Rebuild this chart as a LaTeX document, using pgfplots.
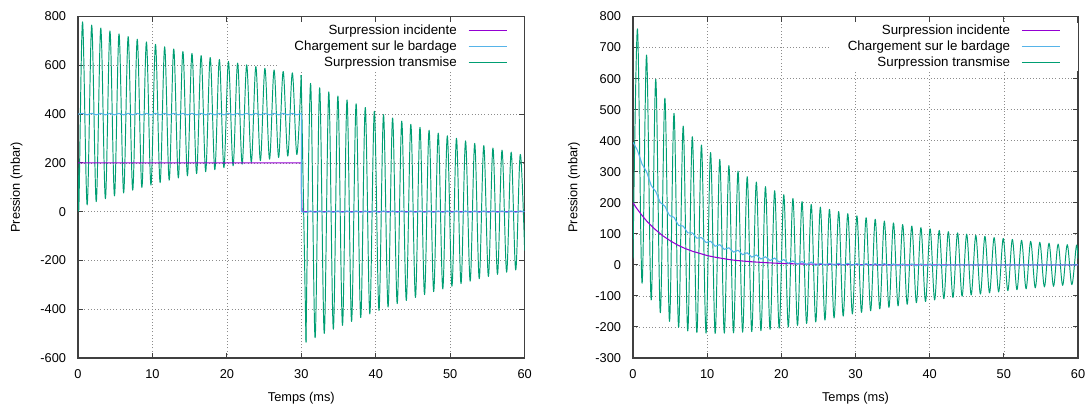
\documentclass[border=0pt]{standalone}
\usepackage{fontspec}
\setmainfont{Liberation Sans}
\usepackage{pgfplots}
\pgfplotsset{compat=1.18}
\definecolor{cinc}{HTML}{9400D3}
\definecolor{cload}{HTML}{56B4E9}
\definecolor{ctrans}{HTML}{009E73}
\pgfplotsset{
  gp/.style={
    scale only axis, height=256.1pt,
    xmin=0, xmax=60,
    xtick={0,10,20,30,40,50,60},
    xticklabels={0,10,20,30,40,50,60},
    axis line style={black!75, line width=0.8pt},
    every tick/.style={black!75, line width=0.8pt},
    major tick length=4pt,
    grid=major,
    major grid style={black!45, line width=0.5pt, dash pattern=on 0.8pt off 1.6pt},
    tick label style={font=\fontsize{9.6}{11}\selectfont},
    yticklabel style={anchor=east, inner sep=0pt, xshift=-8.8pt},
    xticklabel style={anchor=north, inner sep=0pt, yshift=-8.5pt},
    xlabel={Temps (ms)},
    ylabel={Pression (mbar)},
    label style={font=\fontsize{9.6}{11}\selectfont},
    xlabel style={at={(axis description cs:0.5,-0.1163)}, anchor=center},
    legend style={at={(1,1)}, anchor=north east, yshift=-4.3pt, draw=none, fill=white,
      inner xsep=12.75pt, inner ysep=1.5pt, font=\fontsize{10}{12}\selectfont,
      row sep=2.8pt, column sep=8.25pt,
      nodes={inner sep=0pt, text height=7.2pt, text depth=2pt}},
    legend cell align=right, legend plot pos=right,
    legend image code/.code={\draw[##1] (0pt,0pt) -- (28.5pt,0pt);},
    trans/.style={ctrans, line width=0.72pt, line join=round, forget plot},
  }
}
\begin{document}
\begin{tikzpicture}
\useasboundingbox (0,0) rectangle (817.5pt,303.75pt);
% ---------------- left panel ----------------
\begin{axis}[gp, at={(58.5pt,35.25pt)}, anchor=south west, width=335pt,
  ymin=-600, ymax=800,
  ytick={-600,-400,-200,0,200,400,600,800},
  yticklabels={-600,-400,-200,0,200,400,600,800},
  ylabel style={at={(axis description cs:-0.1375,0.5)}, anchor=center}]
\addlegendimage{cinc, line width=0.8pt}\addlegendentry{Surpression incidente}
\addlegendimage{cload, line width=0.8pt}\addlegendentry{Chargement sur le bardage}
\addlegendimage{ctrans, line width=1.2pt}\addlegendentry{Surpression transmise}
\addplot[trans, smooth, tension=0.55] coordinates {
(0.00,200) (0.12,20) (0.61,778) (1.23,28) (1.84,765) (2.45,41) (3.06,753) (3.68,53) (4.29,741) (4.90,65) (5.51,729) (6.13,77) (6.74,718) (7.35,88) (7.96,707) (8.58,99) (9.19,696) (9.80,109) (10.41,686) (11.03,119) (11.64,676) (12.25,129) (12.86,667) (13.48,138) (14.09,657) (14.70,147) (15.31,649) (15.93,156) (16.54,640) (17.15,164) (17.76,632) (18.38,172) (18.99,624) (19.60,180) (20.21,616) (20.83,188) (21.44,609) (22.05,195) (22.66,602) (23.28,202) (23.89,595) (24.50,209) (25.11,588) (25.73,215) (26.34,581) (26.95,222) (27.56,575) (28.18,228) (28.79,569) (29.40,234) (29.98,560)
};
\addplot[trans] coordinates {
(29.98,560) (30.05,450) (30.63,-536)
};
\addplot[trans, smooth, tension=0.55] coordinates {
(30.63,-536) (31.24,526) (31.85,-517) (32.46,508) (33.08,-499) (33.69,491) (34.30,-482) (34.91,474) (35.53,-466) (36.14,458) (36.75,-450) (37.36,442) (37.98,-434) (38.59,427) (39.20,-419) (39.81,412) (40.43,-405) (41.04,398) (41.65,-391) (42.26,384) (42.88,-377) (43.49,371) (44.10,-364) (44.71,358) (45.33,-352) (45.94,346) (46.55,-340) (47.16,334) (47.78,-328) (48.39,322) (49.00,-317) (49.61,311) (50.23,-306) (50.84,301) (51.45,-295) (52.06,290) (52.68,-285) (53.29,280) (53.90,-275) (54.51,271) (55.13,-266) (55.74,261) (56.35,-257) (56.96,252) (57.58,-248) (58.19,244) (58.80,-239) (59.41,235) (60.00,-160)
};
\addplot[cinc, line width=0.8pt, forget plot] coordinates {
(0,200) (30,200) (30,100) (30.1,0) (60,0)
};
\addplot[cload, line width=0.8pt, forget plot] coordinates {
(0.00,400) (0.61,403) (1.23,397) (1.84,403) (2.45,397) (3.06,403) (3.68,397) (4.29,403) (4.90,397) (5.51,403) (6.13,397) (6.74,403) (7.35,397) (7.96,403) (8.58,397) (9.19,403) (9.80,397) (10.41,403) (11.03,397) (11.64,403) (12.25,397) (12.86,403) (13.48,397) (14.09,403) (14.70,397) (15.31,403) (15.93,397) (16.54,403) (17.15,397) (17.76,403) (18.38,397) (18.99,403) (19.60,397) (20.21,403) (20.83,397) (21.44,403) (22.05,397) (22.66,403) (23.28,397) (23.89,403) (24.50,397) (25.11,403) (25.73,397) (26.34,403) (26.95,397) (27.56,403) (28.18,397) (28.79,403) (29.40,397) (29.98,403) (30.00,400) (30.01,0) (30.63,-3) (31.24,3) (31.85,-3) (32.46,3) (33.08,-3) (33.69,3) (34.30,-3) (34.91,3) (35.53,-3) (36.14,3) (36.75,-3) (37.36,3) (37.98,-3) (38.59,3) (39.20,-3) (39.81,3) (40.43,-3) (41.04,3) (41.65,-3) (42.26,3) (42.88,-3) (43.49,3) (44.10,-3) (44.71,3) (45.33,-3) (45.94,3) (46.55,-3) (47.16,3) (47.78,-3) (48.39,3) (49.00,-3) (49.61,3) (50.23,-3) (50.84,3) (51.45,-3) (52.06,3) (52.68,-3) (53.29,3) (53.90,-3) (54.51,3) (55.13,-3) (55.74,3) (56.35,-3) (56.96,3) (57.58,-3) (58.19,3) (58.80,-3) (59.41,3) (60.00,0)
};
\end{axis}
% ---------------- right panel ----------------
\begin{axis}[gp, at={(474.75pt,35.25pt)}, anchor=south west, width=333.75pt,
  ymin=-300, ymax=800,
  ytick={-300,-200,-100,0,100,200,300,400,500,600,700,800},
  yticklabels={-300,-200,-100,0,100,200,300,400,500,600,700,800},
  ylabel style={at={(axis description cs:-0.1323,0.5)}, anchor=center}]
\addlegendimage{cinc, line width=0.8pt}\addlegendentry{Surpression incidente}
\addlegendimage{cload, line width=0.8pt}\addlegendentry{Chargement sur le bardage}
\addlegendimage{ctrans, line width=1.2pt}\addlegendentry{Surpression transmise}
\addplot[trans, smooth, tension=0.55] coordinates {
(0.00,20) (0.60,760) (1.22,-59) (1.83,676) (2.45,-113) (3.07,598) (3.68,-154) (4.30,537) (4.92,-182) (5.53,488) (6.15,-201) (6.77,447) (7.38,-213) (8.00,413) (8.61,-218) (9.23,386) (9.85,-220) (10.46,362) (11.08,-221) (11.70,340) (12.31,-220) (12.93,320) (13.55,-219) (14.16,302) (14.78,-217) (15.40,284) (16.01,-215) (16.63,267) (17.25,-212) (17.86,252) (18.48,-208) (19.10,239) (19.71,-204) (20.33,226) (20.94,-200) (21.56,214) (22.18,-195) (22.79,204) (23.41,-189) (24.03,195) (24.64,-184) (25.26,186) (25.88,-178) (26.49,179) (27.11,-171) (27.73,172) (28.34,-165) (28.96,165) (29.58,-158) (30.19,158) (30.81,-153) (31.43,152) (32.04,-148) (32.66,147) (33.27,-142) (33.89,141) (34.51,-137) (35.12,135) (35.74,-132) (36.36,130) (36.97,-127) (37.59,125) (38.21,-122) (38.82,120) (39.44,-118) (40.06,116) (40.67,-113) (41.29,111) (41.91,-109) (42.52,107) (43.14,-105) (43.76,103) (44.37,-101) (44.99,99) (45.60,-97) (46.22,95) (46.84,-94) (47.45,92) (48.07,-90) (48.69,88) (49.30,-87) (49.92,85) (50.54,-83) (51.15,82) (51.77,-80) (52.39,79) (53.00,-77) (53.62,76) (54.24,-74) (54.85,73) (55.47,-71) (56.09,70) (56.70,-69) (57.32,67) (57.93,-66) (58.55,65) (59.17,-64) (59.78,62) (60.00,20)
};
\addplot[cinc, line width=0.8pt, forget plot] coordinates {
(0,200) (0.5,182) (1,166) (1.5,151) (2,137) (3,114) (4,94) (5,78) (6,64) (7,53) (8,44) (9,37) (10,30) (11,25) (12,21) (13,17) (14,14) (15,12) (16,10) (18,7) (20,4.6) (22,3.2) (25,1.8) (30,0.7) (35,0.3) (40,0) (60,0)
};
\addplot[cload, line width=0.8pt, forget plot] coordinates {
(0.00,395) (0.60,369) (1.22,325) (1.83,300) (2.45,256) (3.07,236) (3.68,201) (4.30,189) (4.92,159) (5.53,153) (6.15,127) (6.77,125) (7.38,103) (8.00,103) (8.61,86) (9.23,88) (9.85,72) (10.46,76) (11.08,60) (11.70,65) (12.31,50) (12.93,55) (13.55,41) (14.16,47) (14.78,33) (15.40,39) (16.01,25) (16.63,32) (17.25,19) (17.86,26) (18.48,14) (19.10,22) (19.71,9) (20.33,17) (20.94,5) (21.56,13) (22.18,2) (22.79,11) (23.41,0) (24.03,9) (24.64,-2) (25.26,5) (25.88,-1) (26.49,5) (27.11,-1) (27.73,5) (28.34,-1) (28.96,5) (29.58,-1) (30.19,4) (30.81,-2) (31.43,4) (32.04,-2) (32.66,4) (33.27,-2) (33.89,4) (34.51,-2) (35.12,3) (35.74,-3) (36.36,3) (36.97,-3) (37.59,3) (38.21,-3) (38.82,3) (39.44,-3) (40.06,3) (40.67,-3) (41.29,2) (41.91,-2) (42.52,0) (60.00,0)
};
\end{axis}
\end{tikzpicture}
\end{document}
